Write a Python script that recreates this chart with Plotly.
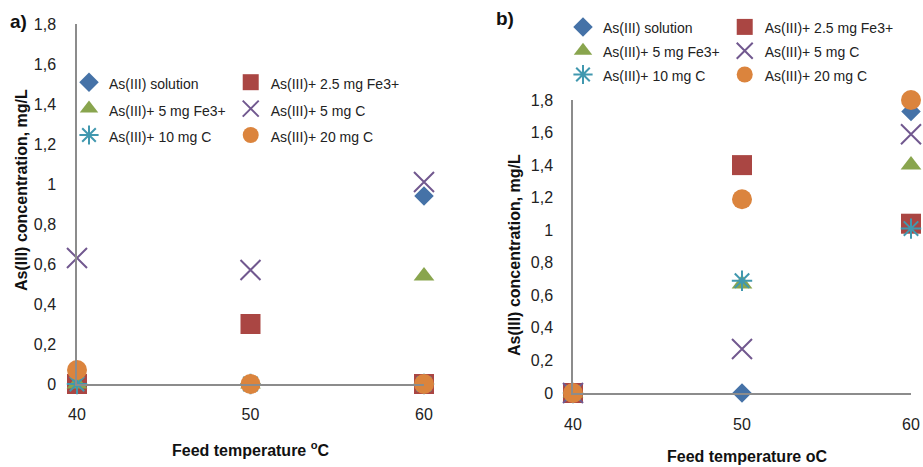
import plotly.graph_objects as go

# ---------------- data ----------------
temps = [40, 50, 60]
series_names = [
    "As(III) solution",
    "As(III)+ 2.5 mg Fe3+",
    "As(III)+ 5 mg Fe3+",
    "As(III)+ 5 mg C",
    "As(III)+ 10 mg C",
    "As(III)+ 20 mg C",
]
# panel a)
a_solution = [0, 0, 0.94]
a_fe25 = [0, 0.30, 0]
a_fe5 = [0, 0, 0.54]
a_c5 = [0.63, 0.57, 1.01]
a_c10 = [0, 0, 0]
a_c20 = [0.07, 0, 0]
# panel b)
b_solution = [0, 0, 1.73]
b_fe25 = [0, 1.40, 1.04]
b_fe5 = [0, 0.67, 1.40]
b_c5 = [0, 0.27, 1.59]
b_c10 = [0, 0.69, 1.01]
b_c20 = [0, 1.19, 1.80]

y_tickvals = [0, 0.2, 0.4, 0.6, 0.8, 1.0, 1.2, 1.4, 1.6, 1.8]
y_ticktext = ["0", "0,2", "0,4", "0,6", "0,8", "1", "1,2", "1,4", "1,6", "1,8"]
x_tickvals = [40, 50, 60]
x_ticktext = ["40", "50", "60"]

# ---------------- styles ----------------
colors = ["#4572A7", "#AA4643", "#89A54E", "#71588F", "#4198AF", "#DB843D"]
symbols = ["diamond", "square", "triangle-up", "x-thin-open", "asterisk-open", "circle"]
sizes = [15, 20, 18, 20, 17, 20]
groups = ["g1", "g2", "g1", "g2", "g1", "g2"]
FONT = "Liberation Sans"

fig = go.Figure()

panels = [
    ([a_solution, a_fe25, a_fe5, a_c5, a_c10, a_c20], "x", "y", "legend"),
    ([b_solution, b_fe25, b_fe5, b_c5, b_c10, b_c20], "x2", "y2", "legend2"),
]
for data, xa, ya, lg in panels:
    for i, vals in enumerate(data):
        line_sym = symbols[i].endswith("open")
        fig.add_trace(go.Scatter(
            x=temps, y=vals, mode="markers", xaxis=xa, yaxis=ya,
            name="<span style='font-size:14px'>" + series_names[i] + "</span>",
            legend=lg, legendgroup=lg + groups[i],
            cliponaxis=False,
            marker=dict(
                symbol=symbols[i], size=sizes[i], color=colors[i],
                line=dict(color=colors[i], width=2 if line_sym else 0),
            ),
        ))

axis_common = dict(
    showgrid=False, zeroline=False, showline=True, automargin=False,
    linecolor="#8C8C8C", linewidth=1.5,
    ticks="", tickfont=dict(family=FONT, size=16, color="#222"),
    fixedrange=True,
)
W, H = 923, 467
# panel pixel geometry
ax_l, ax_r, ay_b, ay_t = 77, 424, 384, 24
bx_l, bx_r, by_b, by_t = 573, 911, 393, 100

fig.update_layout(
    width=W, height=H,
    margin=dict(l=0, r=0, t=0, b=0, autoexpand=False),
    paper_bgcolor="white", plot_bgcolor="white",
    showlegend=True,
    xaxis=dict(domain=[ax_l / W, ax_r / W], range=[40, 60], anchor="y",
               tickvals=x_tickvals, ticktext=x_ticktext, ticklabelstandoff=15, **axis_common),
    yaxis=dict(domain=[1 - ay_b / H, 1 - ay_t / H], range=[0, 1.8], anchor="x",
               tickvals=y_tickvals, ticktext=y_ticktext, ticklabelstandoff=16, **axis_common),
    xaxis2=dict(domain=[bx_l / W, bx_r / W], range=[40, 60], anchor="y2",
                tickvals=x_tickvals, ticktext=x_ticktext, ticklabelstandoff=16, **axis_common),
    yaxis2=dict(domain=[1 - by_b / H, 1 - by_t / H], range=[0, 1.8], anchor="x2",
                tickvals=y_tickvals, ticktext=y_ticktext, ticklabelstandoff=15, **axis_common),
    legend=dict(
        x=69 / W, y=1 - 64 / H, xanchor="left", yanchor="top",
        orientation="h", traceorder="grouped", itemwidth=30,
        bgcolor="rgba(0,0,0,0)", font=dict(family=FONT, size=18, color="#222"),
        itemclick=False, itemdoubleclick=False,
    ),
    legend2=dict(
        x=563 / W, y=1 - 10 / H, xanchor="left", yanchor="top",
        orientation="h", traceorder="grouped", itemwidth=30,
        bgcolor="rgba(0,0,0,0)", font=dict(family=FONT, size=16, color="#222"),
        itemclick=False, itemdoubleclick=False,
    ),
)

title_font = dict(family=FONT, size=16, color="#111")
annots = [
    dict(text="<b>As(III) concentration, mg/L</b>", x=22 / W, y=1 - 190 / H, textangle=-90),
    dict(text="<b>As(III) concentration, mg/L</b>", x=514 / W, y=1 - 255 / H, textangle=-90),
    dict(text="<b>Feed temperature <sup>o</sup>C</b>", x=251 / W, y=1 - 449 / H),
    dict(text="<b>Feed temperature oC</b>", x=747 / W, y=1 - 456 / H),
    dict(text="<b>a)</b>", x=18 / W, y=1 - 21 / H, size=19),
    dict(text="<b>b)</b>", x=505 / W, y=1 - 19 / H, size=19),
]
for a in annots:
    f = dict(title_font)
    if "size" in a:
        f["size"] = a.pop("size")
    fig.add_annotation(xref="paper", yref="paper", showarrow=False,
                       xanchor="center", yanchor="middle", font=f, **a)

fig.write_html("out.html")
